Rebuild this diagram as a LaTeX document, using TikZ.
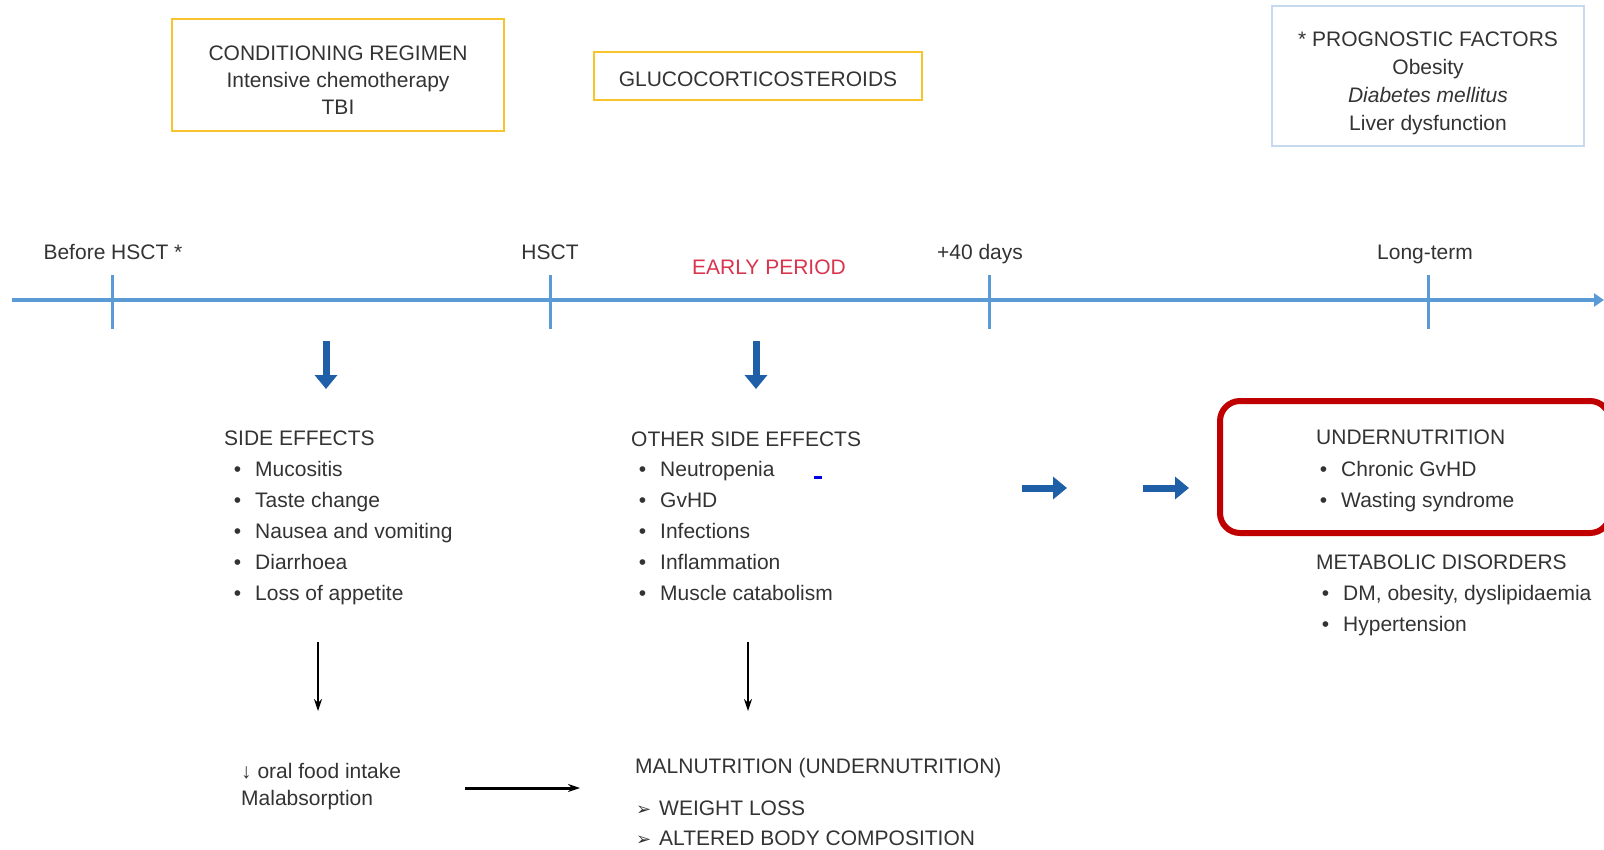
\documentclass[tikz,border=0pt]{standalone}
\usepackage{fontspec}
\setmainfont{Liberation Sans}
\newfontfamily\symfont{DejaVu Sans}
\usetikzlibrary{arrows.meta,positioning}
\definecolor{txt}{HTML}{333333}
\definecolor{tline}{HTML}{5B9BD5}
\definecolor{darr}{HTML}{1F5FA8}
\definecolor{ybox}{HTML}{F7C52B}
\definecolor{pbox}{HTML}{C5DAF0}
\definecolor{rbox}{HTML}{C00000}
\definecolor{early}{HTML}{D9344E}
\newcommand{\bul}{\makebox[0pt][r]{\textbullet\hspace{14pt}}}
\newcommand{\arw}{\makebox[0pt][r]{{\symfont\fontsize{18}{18}\selectfont ➢}\hspace{8pt}}}
\tikzset{
  tbox/.style={draw=#1,line width=2.5pt,inner sep=0pt},
  tl/.style={line width=4pt,draw=tline},
  tick/.style={line width=3pt,draw=tline},
  fat/.style={line width=7pt,draw=darr,-{Triangle[width=22pt,length=14pt]}},
  arr/.style={-{Stealth[length=12pt,width=8pt]},line width=1.5pt},
  itm/.style={anchor=base west,inner sep=0pt},
  tlab/.style={anchor=base,inner sep=0pt},
}
\begin{document}
\begin{tikzpicture}[x=1pt,y=-1pt,every node/.style={font=\fontsize{21}{27}\selectfont,text=txt}]
 \useasboundingbox (0,0) rectangle (1604,849);
 % top boxes
 \node[tbox=ybox,minimum width=332pt,minimum height=112pt] (cond) at (338,75) {};
 \node[align=center] (condt) at ([yshift=-5pt]cond.center) {CONDITIONING REGIMEN\\Intensive chemotherapy\\TBI};
 \node[tbox=ybox,minimum width=328pt,minimum height=48pt] (gluc) at (758,76) {};
 \node (gluct) at ([yshift=-3pt]gluc.center) {GLUCOCORTICOSTEROIDS};
 \node[tbox=pbox,line width=2pt,minimum width=312pt,minimum height=140pt] (prog) at (1428,76) {};
 \node[align=center,font=\fontsize{21}{28}\selectfont] (progt) at ([yshift=-7pt]prog.center) {* PROGNOSTIC FACTORS\\Obesity\\\textit{Diabetes mellitus}\\Liver dysfunction};
 % timeline
 \coordinate (tlA) at (12,300);
 \coordinate (tlB) at (1604,300);
 \draw[tl,-{Triangle[width=13pt,length=10pt]}] (tlA) -- (tlB);
 \foreach \x/\n in {112/t0,550/t1,989/t2,1428/t3}{
   \coordinate (\n) at (\x,300);
   \draw[tick] ([yshift=-29pt]\n) -- ([yshift=25pt]\n);
 }
 \node[tlab] (lbefore) at (113,259) {Before HSCT *};
 \node[tlab] (lhsct) at (550,259) {HSCT};
 \node[tlab,text=early] (learly) at (769,274) {EARLY PERIOD};
 \node[tlab] (lforty) at (980,259) {+40 days};
 \node[tlab] (llong) at (1425,259) {Long-term};
 % blue arrows
 \coordinate (d1a) at (326,341); \coordinate (d1b) at (326,389);
 \coordinate (d2a) at (756,341); \coordinate (d2b) at (756,389);
 \draw[fat] (d1a) -- (d1b);
 \draw[fat] (d2a) -- (d2b);
 \coordinate (r1a) at (1022,488); \coordinate (r1b) at (1067,488);
 \coordinate (r2a) at (1143,488); \coordinate (r2b) at (1189,488);
 \draw[fat] (r1a) -- (r1b);
 \draw[fat] (r2a) -- (r2b);
 % side effects
 \node[itm] (se) at (224,445) {SIDE EFFECTS};
 \foreach \t [count=\i] in {Mucositis,Taste change,Nausea and vomiting,Diarrhoea,Loss of appetite}
   \node[itm] (se\i) at (255,445+31*\i) {\bul\t};
 \node[itm] (ose) at (631,446) {OTHER SIDE EFFECTS};
 \foreach \t [count=\i] in {Neutropenia,GvHD,Infections,Inflammation,Muscle catabolism}
   \node[itm] (ose\i) at (660,445+31*\i) {\bul\t};
 \fill[blue!90!black] (814,475.5) rectangle (822,479);
 % long term
 \node[draw=rbox,line width=6pt,rounded corners=20pt,minimum width=390pt,minimum height=132pt] (frame) at (1415,467) {};
 \node[itm] (un) at (1316,444) {UNDERNUTRITION};
 \foreach \t [count=\i] in {Chronic GvHD,Wasting syndrome}
   \node[itm] (un\i) at (1341,445+31*\i) {\bul\t};
 \node[itm] (md) at (1316,569) {METABOLIC DISORDERS};
 \foreach \t [count=\i] in {{DM, obesity, dyslipidaemia},Hypertension}
   \node[itm] (md\i) at (1343,569+31*\i) {\bul\t};
 % bottom
 \coordinate (b1a) at (318,642); \coordinate (b1b) at (318,711);
 \coordinate (b2a) at (748,642); \coordinate (b2b) at (748,711);
 \draw[arr] (b1a) -- (b1b);
 \draw[arr] (b2a) -- (b2b);
 \node[itm] (oral) at (241,778) {↓ oral food intake};
 \node[itm] (malab) at (241,805) {Malabsorption};
 \node[itm] (maln) at (635,773) {MALNUTRITION (UNDERNUTRITION)};
 \node[itm] (wl) at (659,815) {\arw WEIGHT LOSS};
 \node[itm] (abc) at (659,845) {\arw ALTERED BODY COMPOSITION};
 \coordinate (h1a) at (465,788); \coordinate (h1b) at (580,788);
 \draw[arr,line width=3pt] (h1a) -- (h1b);
\end{tikzpicture}
\end{document}
